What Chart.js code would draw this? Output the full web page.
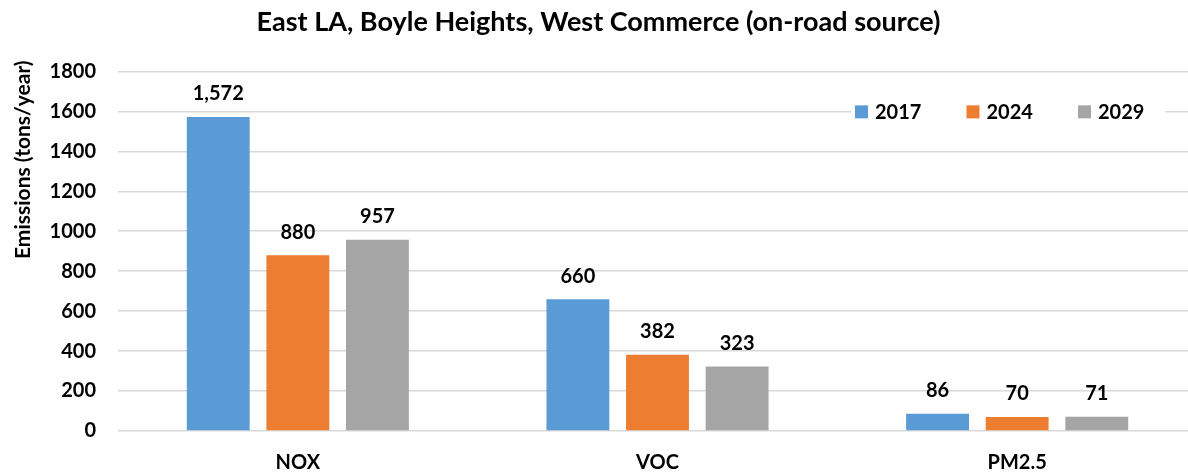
<!DOCTYPE html>
<html>
<head>
<meta charset="utf-8">
<script src="https://cdn.jsdelivr.net/npm/chart.js@4.4.1/dist/chart.umd.min.js"></script>
<style>
    html, body { margin: 0; padding: 0; background: #ffffff; overflow: hidden; }
    #wrap { width: 1197px; height: 473px; }
</style>
</head>
<body>
<div id="wrap"><canvas id="emissionsChart"></canvas></div>
<script>
// Chart data
const categories = ['NOX', 'VOC', 'PM2.5'];
const years = ['2017', '2024', '2029'];
const values2017 = [1572, 660, 86];
const values2024 = [880, 382, 70];
const values2029 = [957, 323, 71];
const yTicks = [0, 200, 400, 600, 800, 1000, 1200, 1400, 1600, 1800];
const yAxisTitle = 'Emissions (tons/year)';

const seriesColors = ['#5B9BD5', '#ED7D31', '#A5A5A5'];
const fontFamily = 'Lato, "Open Sans", sans-serif';

// Draw the value above each bar
const valueLabels = {
    id: 'valueLabels',
    afterDatasetsDraw(chart) {
        const ctx = chart.ctx;
        ctx.save();
        ctx.font = 'bold 20px ' + fontFamily;
        ctx.fillStyle = '#000000';
        ctx.textAlign = 'center';
        ctx.textBaseline = 'bottom';
        chart.data.datasets.forEach((ds, i) => {
            chart.getDatasetMeta(i).data.forEach((bar, j) => {
                ctx.fillText(ds.data[j].toLocaleString('en-US'), bar.x, bar.y - 13);
            });
        });
        ctx.restore();
    }
};

// Legend sits inside the plot, over the 1600 gridline
const insideLegend = {
    id: 'insideLegend',
    afterDraw(chart) {
        const ctx = chart.ctx;
        const y = chart.scales.y.getPixelForValue(1600);
        const startX = 855;
        const step = 111.5;
        ctx.save();
        ctx.fillStyle = '#ffffff';
        ctx.fillRect(startX - 4, y - 12, 3 * step - 20, 24);
        ctx.font = 'bold 20px ' + fontFamily;
        ctx.textBaseline = 'middle';
        ctx.textAlign = 'left';
        chart.data.datasets.forEach((ds, i) => {
            const x = startX + i * step;
            ctx.fillStyle = ds.backgroundColor;
            ctx.fillRect(x, y - 6, 13, 13);
            ctx.fillStyle = '#000000';
            ctx.fillText(ds.label, x + 20, y + 1);
        });
        ctx.restore();
    }
};

// Y axis title, sitting high up like the original (not centred on the axis)
const yTitle = {
    id: 'yTitle',
    afterDraw(chart) {
        const ctx = chart.ctx;
        const top = chart.chartArea.top;
        ctx.save();
        ctx.translate(23, top - 11);
        ctx.rotate(-Math.PI / 2);
        ctx.font = 'bold 21px ' + fontFamily;
        ctx.fillStyle = '#000000';
        ctx.textAlign = 'right';
        ctx.textBaseline = 'middle';
        ctx.fillText(yAxisTitle, 0, 0);
        ctx.restore();
    }
};

const ctx = document.getElementById('emissionsChart').getContext('2d');
const emissionsChart = new Chart(ctx, {
    type: 'bar',
    data: {
        labels: categories,
        datasets: [
            { label: years[0], data: values2017, backgroundColor: seriesColors[0] },
            { label: years[1], data: values2024, backgroundColor: seriesColors[1] },
            { label: years[2], data: values2029, backgroundColor: seriesColors[2] }
        ]
    },
    options: {
        responsive: true,
        maintainAspectRatio: false,
        animation: false,
        datasets: {
            bar: {
                categoryPercentage: 0.664,
                barPercentage: 0.79
            }
        },
        layout: {
            padding: { left: 0, right: 0, top: 2, bottom: 0 }
        },
        plugins: {
            title: {
                display: true,
                text: 'East LA, Boyle Heights, West Commerce (on-road source)',
                color: '#000000',
                font: { family: fontFamily, size: 27, weight: 'bold' },
                padding: { top: 4, bottom: 33 }
            },
            legend: { display: false },
            tooltip: { enabled: false }
        },
        scales: {
            x: {
                grid: { display: false, drawTicks: false },
                border: { display: false },
                ticks: {
                    color: '#000000',
                    font: { family: fontFamily, size: 20, weight: 'bold' },
                    padding: 20
                },
                afterFit(scale) {
                    scale.height = 42;
                }
            },
            y: {
                min: 0,
                max: 1800,
                afterBuildTicks(axis) {
                    axis.ticks = yTicks.map(v => ({ value: v }));
                },
                afterFit(scale) {
                    scale.width = 118;
                },
                grid: {
                    color: '#D9D9D9',
                    lineWidth: 1.5,
                    drawTicks: false
                },
                border: { display: false },
                ticks: {
                    color: '#000000',
                    font: { family: fontFamily, size: 20, weight: 'bold' },
                    padding: 22,
                    callback: value => String(value)
                }
            }
        }
    },
    plugins: [valueLabels, insideLegend, yTitle]
});
</script>
</body>
</html>
